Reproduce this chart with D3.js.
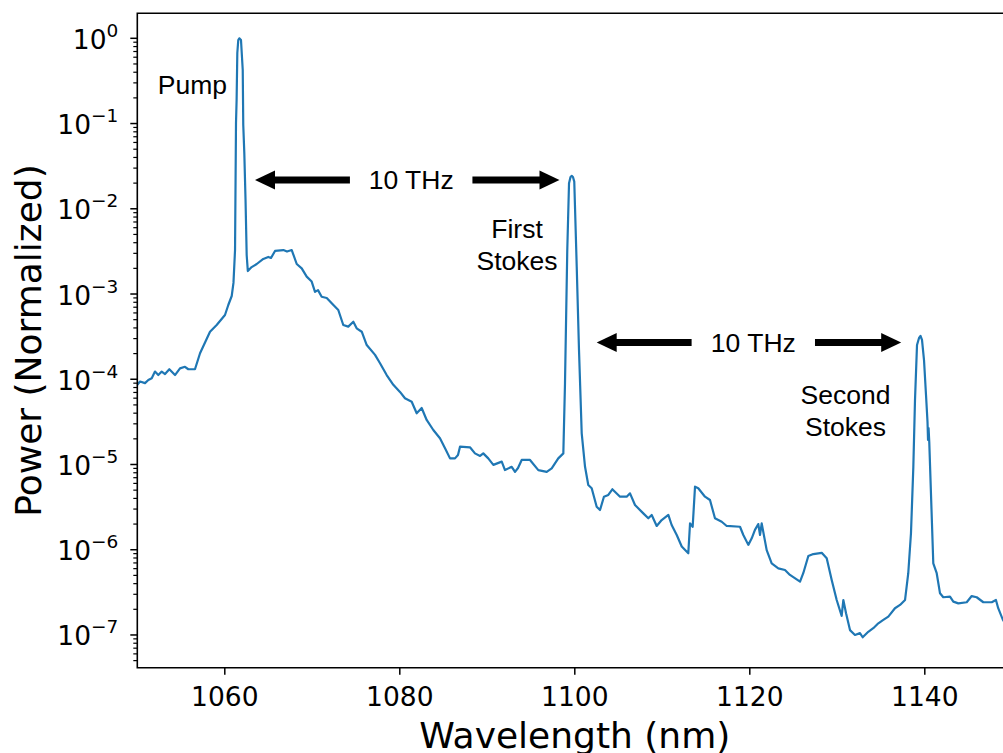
<!DOCTYPE html>
<html>
<head>
<meta charset="utf-8">
<script src="https://cdn.jsdelivr.net/npm/d3@7"></script>
<style>
  html, body { margin: 0; padding: 0; background: #fff; }
  svg { display: block; }
</style>
</head>
<body>
<div id="chart"></div>
<script>
// spectrum (nm, normalized power)
const wavelength = [
  1050.0, 1050.31, 1050.88, 1051.26, 1051.65, 1052.02, 1052.40, 1052.79, 1053.17, 1053.66,
  1054.31, 1054.88, 1055.45, 1055.83, 1056.59, 1057.17, 1058.31, 1059.07, 1060.02, 1060.40,
  1060.79, 1060.99, 1061.17, 1061.28, 1061.35, 1061.43, 1061.54, 1061.66, 1061.85, 1062.05,
  1062.11, 1062.23, 1062.37, 1062.50, 1062.63, 1063.07, 1063.65, 1064.40, 1064.97, 1065.28,
  1065.74, 1066.69, 1067.11, 1067.65, 1068.22, 1068.79, 1069.36, 1069.93, 1070.31, 1070.65,
  1071.07, 1071.65, 1072.22, 1072.97, 1073.54, 1074.11, 1074.69, 1075.07, 1075.65, 1076.22,
  1077.17, 1077.74, 1078.50, 1079.26, 1080.02, 1080.59, 1081.36, 1081.93, 1082.50, 1083.07,
  1083.83, 1084.59, 1085.17, 1085.74, 1086.31, 1086.65, 1086.88, 1088.02, 1088.59, 1089.17,
  1089.54, 1090.11, 1090.69, 1091.65, 1092.02, 1092.79, 1093.17, 1093.51, 1093.93, 1094.88,
  1095.83, 1096.79, 1097.36, 1098.11, 1098.69, 1098.88, 1099.14, 1099.34, 1099.51, 1099.65,
  1099.79, 1099.94, 1100.22, 1100.48, 1100.79, 1101.17, 1101.54, 1101.93, 1102.50, 1102.88,
  1103.33, 1103.83, 1104.29, 1105.17, 1105.93, 1106.31, 1106.88, 1107.83, 1108.40, 1108.79,
  1109.36, 1109.93, 1110.69, 1111.07, 1111.65, 1112.22, 1112.97, 1113.17, 1113.47, 1113.74,
  1114.11, 1114.88, 1115.45, 1116.02, 1116.79, 1117.36, 1118.88, 1119.26, 1119.83, 1120.22,
  1120.59, 1120.97, 1121.17, 1121.36, 1121.93, 1122.50, 1123.26, 1124.02, 1124.59, 1125.74,
  1126.11, 1126.69, 1127.26, 1128.22, 1128.79, 1129.36, 1129.93, 1130.50, 1130.69, 1131.00,
  1131.45, 1132.02, 1132.59, 1132.90, 1133.54, 1134.11, 1134.69, 1135.26, 1135.83, 1136.59,
  1137.17, 1137.74, 1138.11, 1138.42, 1138.69, 1138.88, 1139.11, 1139.34, 1139.51, 1139.68,
  1139.91, 1140.14, 1140.31, 1140.37, 1140.43, 1140.51, 1140.97, 1141.36, 1141.74, 1142.11,
  1142.88, 1143.26, 1143.83, 1144.79, 1145.36, 1145.93, 1146.69, 1147.65, 1148.13, 1148.39,
  1148.93, 1149.9
];
const power = [
  8.6e-5, 9.4e-5, 9.0e-5, 9.8e-5, 1.03e-4, 1.23e-4, 1.12e-4, 1.23e-4, 1.15e-4, 1.31e-4,
  1.12e-4, 1.34e-4, 1.40e-4, 1.31e-4, 1.31e-4, 2.02e-4, 3.61e-4, 4.33e-4, 5.67e-4, 7.43e-4,
  9.48e-4, 1.35e-3, 3.28e-3, 0.101, 0.189, 0.672, 0.955, 1.0, 0.955, 0.425,
  0.096, 0.045, 0.0127, 2.87e-3, 1.86e-3, 2.07e-3, 2.25e-3, 2.58e-3, 2.72e-3, 2.65e-3,
  3.20e-3, 3.28e-3, 3.15e-3, 3.28e-3, 2.25e-3, 2.00e-3, 1.60e-3, 1.40e-3, 1.06e-3, 1.11e-3,
  9.3e-4, 8.98e-4, 7.78e-4, 6.49e-4, 4.33e-4, 4.14e-4, 4.73e-4, 3.96e-4, 3.61e-4, 2.52e-4,
  1.93e-4, 1.54e-4, 1.12e-4, 8.6e-5, 7.1e-5, 5.98e-5, 5.45e-5, 3.99e-5, 4.60e-5, 3.33e-5,
  2.54e-5, 2.03e-5, 1.55e-5, 1.18e-5, 1.18e-5, 1.29e-5, 1.62e-5, 1.59e-5, 1.35e-5, 1.26e-5,
  1.35e-5, 1.18e-5, 9.9e-6, 1.08e-5, 8.6e-6, 9.4e-6, 8.2e-6, 9.1e-6, 1.13e-5, 1.13e-5,
  8.6e-6, 8.2e-6, 9.0e-6, 1.18e-5, 1.35e-5, 8.97e-5, 3.28e-3, 0.0199, 0.0236, 0.0243,
  0.0236, 0.0208, 2.09e-3, 2.20e-4, 2.32e-5, 9.4e-6, 5.75e-6, 5.26e-6, 3.20e-6, 2.92e-6,
  4.19e-6, 4.39e-6, 5.12e-6, 4.19e-6, 4.19e-6, 4.59e-6, 3.35e-6, 2.67e-6, 2.34e-6, 2.56e-6,
  1.90e-6, 2.23e-6, 2.56e-6, 1.95e-6, 1.49e-6, 1.09e-6, 9.1e-7, 2.04e-6, 1.86e-6, 5.49e-6,
  5.26e-6, 4.19e-6, 3.83e-6, 2.34e-6, 2.13e-6, 1.90e-6, 1.86e-6, 1.49e-6, 1.14e-6, 1.36e-6,
  1.71e-6, 2.00e-6, 1.49e-6, 2.04e-6, 9.9e-7, 6.93e-7, 6.05e-7, 5.78e-7, 5.06e-7, 4.22e-7,
  5.30e-7, 8.45e-7, 8.9e-7, 9.2e-7, 7.94e-7, 4.42e-7, 2.57e-7, 1.67e-7, 2.57e-7, 1.80e-7,
  1.14e-7, 1.0e-7, 1.05e-7, 9.4e-8, 1.09e-7, 1.20e-7, 1.37e-7, 1.50e-7, 1.64e-7, 2.06e-7,
  2.25e-7, 2.57e-7, 5.30e-7, 1.56e-6, 9.4e-6, 5.71e-5, 2.52e-4, 3.05e-4, 3.22e-4, 2.89e-4,
  1.68e-4, 6.5e-5, 3.15e-5, 1.94e-5, 2.68e-5, 1.84e-5, 6.93e-7, 5.30e-7, 3.08e-7, 2.77e-7,
  2.81e-7, 2.46e-7, 2.35e-7, 2.42e-7, 2.86e-7, 2.77e-7, 2.42e-7, 2.42e-7, 2.57e-7, 2.06e-7,
  1.50e-7, 1.1e-7
];

const xTicks = [1060, 1080, 1100, 1120, 1140];
const yExponents = [0, -1, -2, -3, -4, -5, -6, -7];

// text annotations, placed in data coordinates
const peakLabels = [
  { lines: ["Pump"], at: 1056.3, level: 0.2855 },
  { lines: ["First", "Stokes"], at: 1093.4, level: 5.84e-3 },
  { lines: ["Second", "Stokes"], at: 1130.94, level: 6.59e-5 }
];
const spacings = [
  { label: "10 THz", at: 1081.3, level: 0.0218, tails: [1074.3, 1088.3], tips: [1063.45, 1098.25] },
  { label: "10 THz", at: 1120.4, level: 2.69e-4, tails: [1113.35, 1127.45], tips: [1102.5, 1137.3] }
];

const W = 1003, H = 753;
const plot = { left: 137.3, top: 13.3, right: 1012.3, bottom: 667.7 };

const svg = d3.select("#chart").append("svg")
  .attr("width", W)
  .attr("height", H);

const x = d3.scaleLinear().domain([1050, 1150]).range([plot.left, plot.right]);
const y = d3.scaleLog().domain([4.13e-8, 1.965]).range([plot.bottom, plot.top]);

const tickFont = "'DejaVu Sans', sans-serif";
const noteFont = "'Liberation Sans', Arial, sans-serif";

// clip for the data line
svg.append("defs").append("clipPath").attr("id", "clip")
  .append("rect")
  .attr("x", plot.left).attr("y", plot.top)
  .attr("width", plot.right - plot.left).attr("height", plot.bottom - plot.top);

const series = wavelength.map((w, i) => ({ w: w, p: power[i] }));

const line = d3.line()
  .x(d => x(d.w))
  .y(d => y(d.p));

svg.append("path")
  .datum(series)
  .attr("clip-path", "url(#clip)")
  .attr("d", line)
  .style("fill", "none")
  .style("stroke", "#1f77b4")
  .style("stroke-width", 2.2)
  .style("stroke-linejoin", "round");

// x axis ticks + labels
const xAxis = svg.append("g");
xAxis.selectAll("line").data(xTicks).join("line")
  .attr("x1", d => x(d)).attr("x2", d => x(d))
  .attr("y1", plot.bottom).attr("y2", plot.bottom + 7)
  .style("stroke", "#000").style("stroke-width", 1.5);
xAxis.selectAll("text").data(xTicks).join("text")
  .attr("x", d => x(d))
  .attr("y", plot.bottom + 38.5)
  .attr("text-anchor", "middle")
  .style("font-family", tickFont)
  .style("font-size", "26.5px")
  .text(d => d);

// y axis: major ticks at decades, minor at 2..9
const yAxis = svg.append("g");
const [yLo, yHi] = y.domain();
const minor = [];
for (let e = -8; e <= 0; e++) {
  for (let m = 2; m <= 9; m++) {
    const v = m * Math.pow(10, e);
    if (v >= yLo && v <= yHi) minor.push(v);
  }
}
yAxis.selectAll("line.minor").data(minor).join("line")
  .attr("class", "minor")
  .attr("x1", plot.left - 4).attr("x2", plot.left)
  .attr("y1", d => y(d)).attr("y2", d => y(d))
  .style("stroke", "#000").style("stroke-width", 1.2);
yAxis.selectAll("line.major").data(yExponents).join("line")
  .attr("class", "major")
  .attr("x1", plot.left - 7).attr("x2", plot.left)
  .attr("y1", d => y(Math.pow(10, d))).attr("y2", d => y(Math.pow(10, d)))
  .style("stroke", "#000").style("stroke-width", 1.5);

const yLabels = yAxis.selectAll("text").data(yExponents).join("text")
  .attr("x", 118.3)
  .attr("y", d => y(Math.pow(10, d)) + 10.5)
  .attr("text-anchor", "end")
  .style("font-family", tickFont)
  .style("font-size", "26.5px");
yLabels.append("tspan").text("10");
yLabels.append("tspan")
  .attr("dy", -12)
  .style("font-size", "18.5px")
  .text(d => String(d).replace("-", "\u2212"));

// spines
const spine = svg.append("g")
  .style("stroke", "#000").style("stroke-width", 1.6).style("fill", "none");
spine.append("path")
  .attr("d", `M${plot.left},${plot.bottom}V${plot.top}H${plot.right}V${plot.bottom}Z`)
  .style("stroke-linejoin", "miter");

// axis titles
svg.append("text")
  .attr("x", (plot.left + plot.right) / 2)
  .attr("y", 748)
  .attr("text-anchor", "middle")
  .style("font-family", tickFont)
  .style("font-size", "36px")
  .text("Wavelength (nm)");

svg.append("text")
  .attr("transform", `translate(41,${(plot.top + plot.bottom) / 2}) rotate(-90)`)
  .attr("text-anchor", "middle")
  .style("font-family", tickFont)
  .style("font-size", "36px")
  .text("Power (Normalized)");

// peak labels
peakLabels.forEach(lab => {
  const t = svg.append("text")
    .attr("text-anchor", "middle")
    .style("font-family", noteFont)
    .style("font-size", "26.5px");
  lab.lines.forEach((s, i) => {
    t.append("tspan")
      .attr("x", x(lab.at))
      .attr("y", y(lab.level) + 9.4 + i * 32)
      .text(s);
  });
});

// 10 THz double arrows
const headLen = 20, headHalf = 9.5, shaft = 7;
spacings.forEach(s => {
  const yy = y(s.level);
  svg.append("text")
    .attr("x", x(s.at))
    .attr("y", yy + 9.4)
    .attr("text-anchor", "middle")
    .style("font-family", noteFont)
    .style("font-size", "26.5px")
    .text(s.label);
  s.tails.forEach((tail, i) => {
    const x0 = x(tail), x1 = x(s.tips[i]);
    const dir = Math.sign(x1 - x0);
    const base = x1 - dir * headLen;
    svg.append("line")
      .attr("x1", x0).attr("x2", base + dir * 1)
      .attr("y1", yy).attr("y2", yy)
      .style("stroke", "#000").style("stroke-width", shaft);
    svg.append("path")
      .attr("d", `M${x1},${yy}L${base},${yy - headHalf}L${base},${yy + headHalf}Z`)
      .style("fill", "#000");
  });
});
</script>
</body>
</html>
